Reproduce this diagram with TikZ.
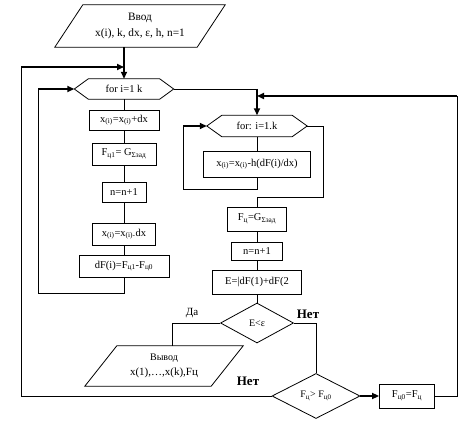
\documentclass[tikz,border=0pt]{standalone}
\usepackage{fontspec}
\setmainfont{Liberation Serif}
\usetikzlibrary{arrows.meta,shapes.geometric}
\newcommand{\sbs}[1]{\textsubscript{#1}}
\begin{document}
\begin{tikzpicture}[x=1pt,y=-1pt,
  ln/.style={line width=0.8pt},
  thk/.style={line width=1.6pt,-{Triangle[length=7pt,width=6pt]}},
  box/.style={draw,line width=0.8pt,inner sep=0pt,font=\fontsize{10.5}{12}\selectfont},
  shp/.style={inner sep=0pt,align=center,font=\fontsize{10.5}{12}\selectfont},
  dia/.style={draw,diamond,line width=0.8pt,inner sep=0pt,font=\fontsize{10}{12}\selectfont},
  lbl/.style={inner sep=0pt,font=\fontsize{11}{13}\selectfont},
  blbl/.style={inner sep=0pt,font=\fontsize{13}{15}\selectfont\bfseries}]
\useasboundingbox (0,0) rectangle (474,422);
% input
\node[shp,minimum width=170pt,minimum height=42pt,font=\fontsize{11.3}{15.5}\selectfont] (in1) at (140,26) {Ввод\\x(i), k, dx, ε, h, n=1};
\draw[ln] ([xshift=28pt]in1.north west) -- (in1.north east) -- ([xshift=-28pt]in1.south east) -- (in1.south west) -- cycle;
% outer loop hexagon
\node[shp,minimum width=99pt,minimum height=20pt] (h1) at (124,89) {for i=1 k};
\draw[ln] (h1.west) -- ([xshift=14pt]h1.north west) -- ([xshift=-14pt]h1.north east) -- (h1.east) -- ([xshift=-14pt]h1.south east) -- ([xshift=14pt]h1.south west) -- cycle;
% left column
\node[box,minimum width=70pt,minimum height=20pt] (b1) at (124,120) {x\sbs{(i)}=x\sbs{(i)}+dx};
\node[box,minimum width=64pt,minimum height=22pt] (b2) at (124,154) {F\sbs{ц1}= G\sbs{Σзад}};
\node[box,minimum width=44pt,minimum height=20pt] (b3) at (124,192) {n=n+1};
\node[box,minimum width=63pt,minimum height=22pt] (b4) at (124,234) {x\sbs{(i)}=x\sbs{(i)-}dx};
\node[box,minimum width=90pt,minimum height=22pt] (b5) at (124,266) {dF(i)=F\sbs{ц1}-F\sbs{ц0}};
% right column
\node[shp,minimum width=100pt,minimum height=21pt] (h2) at (257,126) {for: i=1.k};
\draw[ln] (h2.west) -- ([xshift=15pt]h2.north west) -- ([xshift=-15pt]h2.north east) -- (h2.east) -- ([xshift=-15pt]h2.south east) -- ([xshift=15pt]h2.south west) -- cycle;
\node[box,minimum width=107pt,minimum height=26pt] (b6) at (257,164) {x\sbs{(i)}=x\sbs{(i)}-h(dF(i)/dx)};
\node[box,minimum width=59pt,minimum height=24pt] (b7) at (257,219) {F\sbs{ц}=G\sbs{Σзад}};
\node[box,minimum width=51pt,minimum height=18pt] (b8) at (257,251) {n=n+1};
\node[box,minimum width=89pt,minimum height=24pt] (b9) at (257,282) {E=|dF(1)+dF(2};
\node[dia,minimum width=73pt,minimum height=40pt] (d1) at (257,323) {E<ε};
\node[dia,minimum width=88pt,minimum height=45pt] (d2) at (316,396) {F\sbs{ц}> F\sbs{ц0}};
\node[box,minimum width=55pt,minimum height=24pt] (f0) at (407,396) {F\sbs{ц0}=F\sbs{ц}};
% output
\node[shp,minimum width=158pt,minimum height=40pt,font=\fontsize{11}{15}\selectfont] (out1) at (164,366) {{\fontsize{10}{12}\selectfont Вывод}\\x(1),…,x(k),Fц};
\draw[ln] ([xshift=32pt]out1.north west) -- (out1.north east) -- ([xshift=-32pt]out1.south east) -- (out1.south west) -- cycle;
% labels
\node[lbl] (da) at (192,313) {Да};
\node[blbl] (net1) at (308,314) {Нет};
\node[blbl] (net2) at (248,381) {Нет};
% coordinates
\coordinate (j1) at (124,67);
\coordinate (c1) at (21,396);
\coordinate (c2) at (21,67);
\coordinate (c3) at (124,293);
\coordinate (c4) at (38,293);
\coordinate (c5) at (38,89);
\coordinate (c6) at (257,89);
\coordinate (c7) at (257,189);
\coordinate (c8) at (183,189);
\coordinate (c9) at (183,126);
\coordinate (c10) at (323,126);
\coordinate (c11) at (323,197);
\coordinate (c12) at (257,197);
\coordinate (c13) at (457,396);
\coordinate (c14) at (457,96);
\coordinate (c15) at (257,96);
% connectors
\draw[thk] (in1.south -| h1.north) -- (h1.north);
\draw[ln] (h1.south) -- (b1.north);
\draw[ln] (b1.south) -- (b2.north);
\draw[ln] (b2.south) -- (b3.north);
\draw[ln] (b3.south) -- (b4.north);
\draw[ln] (b4.south) -- (b5.north);
\draw[ln] (b5.south) -- (c3) -- (c4) -- (c5);
\draw[thk] (c5) -- (h1.west);
\draw[ln] (h1.east) -- (c6);
\draw[thk] (c6) -- (h2.north);
\draw[ln] (h2.south) -- (b6.north);
\draw[ln] (b6.south) -- (c7) -- (c8) -- (c9);
\draw[thk] (c9) -- (h2.west);
\draw[ln] (h2.east) -- (c10) -- (c11) -- (c12) -- (b7.north);
\draw[ln] (b7.south) -- (b8.north);
\draw[ln] (b8.south) -- (b9.north);
\draw[ln] (b9.south) -- (d1.north);
\draw[ln] (d1.west) -| ([xshift=8pt]out1.north);
\draw[ln] (d1.east) -| (d2.north);
\draw[thk] (d2.east) -- (f0.west);
\draw[ln] (f0.east) -- (c13) -- (c14);
\draw[thk] (c14) -- (c15);
\draw[ln] (d2.west) -- (c1) -- (c2);
\draw[thk] (c2) -- (j1);
\end{tikzpicture}
\end{document}
